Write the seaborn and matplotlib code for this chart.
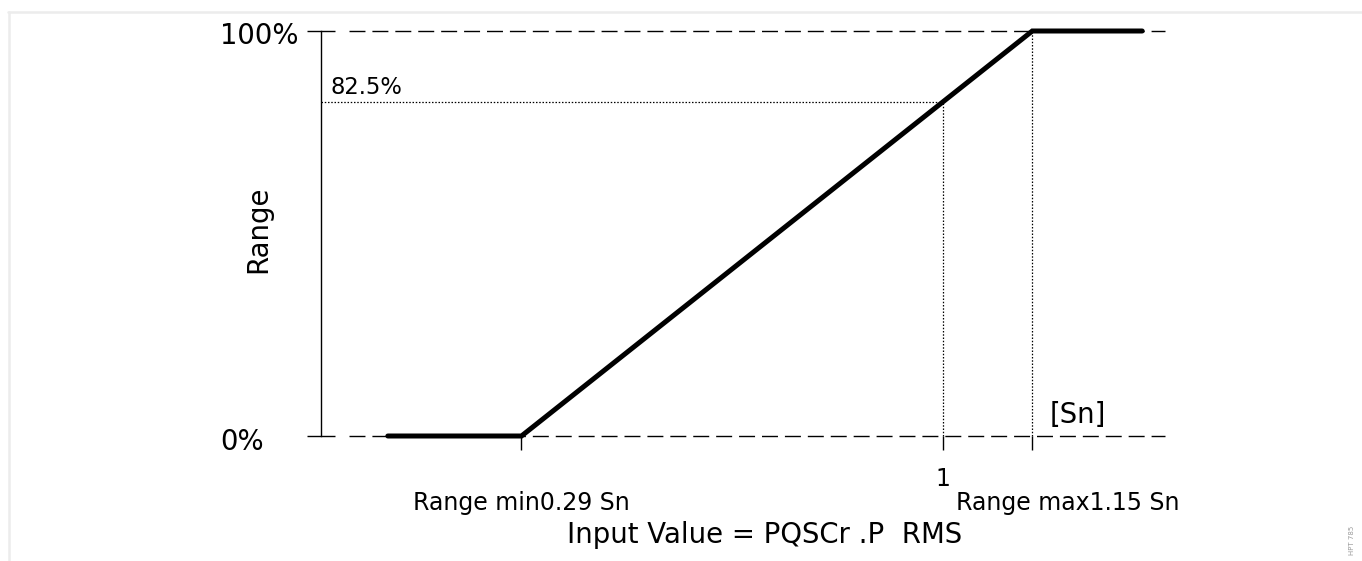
import matplotlib
matplotlib.use("Agg")
import matplotlib.pyplot as plt
import matplotlib.transforms as mtransforms
from matplotlib.lines import Line2D
import pandas as pd
import seaborn as sns

# characteristic: input value (in Sn) against range (%)
input_value = [0.065, 0.29, 1.15, 1.335]
range_pct = [0, 0, 100, 100]

range_min = 0.29
range_max = 1.15
nominal = 1.0
nominal_pct = 82.5

x_ticks = [range_min, nominal, range_max]
x_tick_names = ["Range min0.29 Sn", "1", "Range max1.15 Sn"]
y_ticks = [0, 100]
y_tick_names = ["0%", "100%"]

df = pd.DataFrame({"input": input_value, "range": range_pct})

sns.set_style("white")
plt.rcParams["font.family"] = ["DejaVu Sans"]
plt.rcParams["text.color"] = "black"
plt.rcParams["xtick.color"] = "black"
plt.rcParams["ytick.color"] = "black"

fig = plt.figure(figsize=(13.62, 5.61), dpi=100)
W, H = 1362.0, 561.0
ax = fig.add_axes([321 / W, (H - 436) / H, 844 / W, 405 / H])

# main curve
sns.lineplot(data=df, x="input", y="range", color="black", linewidth=3.6,
             ax=ax, clip_on=False, solid_capstyle="round", solid_joinstyle="miter")

ax.set_xlim(-0.0475, 1.3734)
ax.set_ylim(0, 100)

# dashed limits at 0% and 100%
for yv in y_ticks:
    ax.plot([0.0, 1.3734], [yv, yv], color="black", lw=1.0,
            dashes=(11.5, 5), clip_on=False, zorder=1)

# dotted helper lines
dot = dict(color="black", lw=0.9, linestyle=(0, (1.2, 1.4)), clip_on=False, zorder=1)
ax.plot([nominal, nominal], [0, nominal_pct], **dot)
ax.plot([-0.0475, nominal], [nominal_pct, nominal_pct], **dot)
ax.plot([range_max, range_max], [0, 100], **dot)

# spines / ticks
for s in ["top", "right", "bottom"]:
    ax.spines[s].set_visible(False)
ax.spines["left"].set_color("black")
ax.spines["left"].set_linewidth(1.0)

ax.set_yticks(y_ticks, labels=["", ""])
ax.tick_params(axis="y", direction="inout", length=20, width=1.0, color="black", left=True)
ax.set_xticks(x_ticks, labels=["", x_tick_names[1], ""])
ax.tick_params(axis="x", direction="out", length=10, width=1.0, color="black",
               bottom=True, labelsize=17, pad=12, labelcolor="black")
ax.set_xlabel("")
ax.set_ylabel("")

# y tick labels, left aligned
ytrans = mtransforms.blended_transform_factory(ax.transAxes, ax.transData)
ax.text(-0.1197, -1.5, y_tick_names[0], transform=ytrans, fontsize=19.8,
        ha="left", va="center")
ax.text(-0.1197, 98.8, y_tick_names[1], transform=ytrans, fontsize=19.8,
        ha="left", va="center")

# range min / max labels
xtrans = mtransforms.blended_transform_factory(ax.transData, fig.transFigure)
ax.text(range_min, 1 - 503 / H, x_tick_names[0], transform=xtrans, fontsize=17,
        ha="center", va="center")
ax.text(1.210, 1 - 503 / H, x_tick_names[2], transform=xtrans, fontsize=17,
        ha="center", va="center")

# annotations
ax.text(-0.032, 84.4, "82.5%", fontsize=16.3, ha="left", va="baseline")
ax.text(1.180, 3.2, "[Sn]", fontsize=19.8, ha="left", va="baseline")

# axis titles
fig.text(258 / W, 1 - 229 / H, "Range", rotation=90, fontsize=19.8,
         ha="center", va="center")
fig.text(765 / W, 1 - 535 / H, "Input Value = PQSCr .P  RMS", fontsize=19.8,
         ha="center", va="center")

# light frame and figure id
fig.add_artist(Line2D([8 / W, 1], [1 - 11.5 / H, 1 - 11.5 / H], color="#ececec", lw=1.8))
fig.add_artist(Line2D([9 / W, 9 / W], [0, 1 - 11.5 / H], color="#ececec", lw=1.8))
fig.text(1352 / W, 1 - 540 / H, "HPT 785", rotation=90, fontsize=5,
         color="#9a9a9a", ha="center", va="center")

fig.savefig("out.png", dpi=100)
plt.close(fig)
